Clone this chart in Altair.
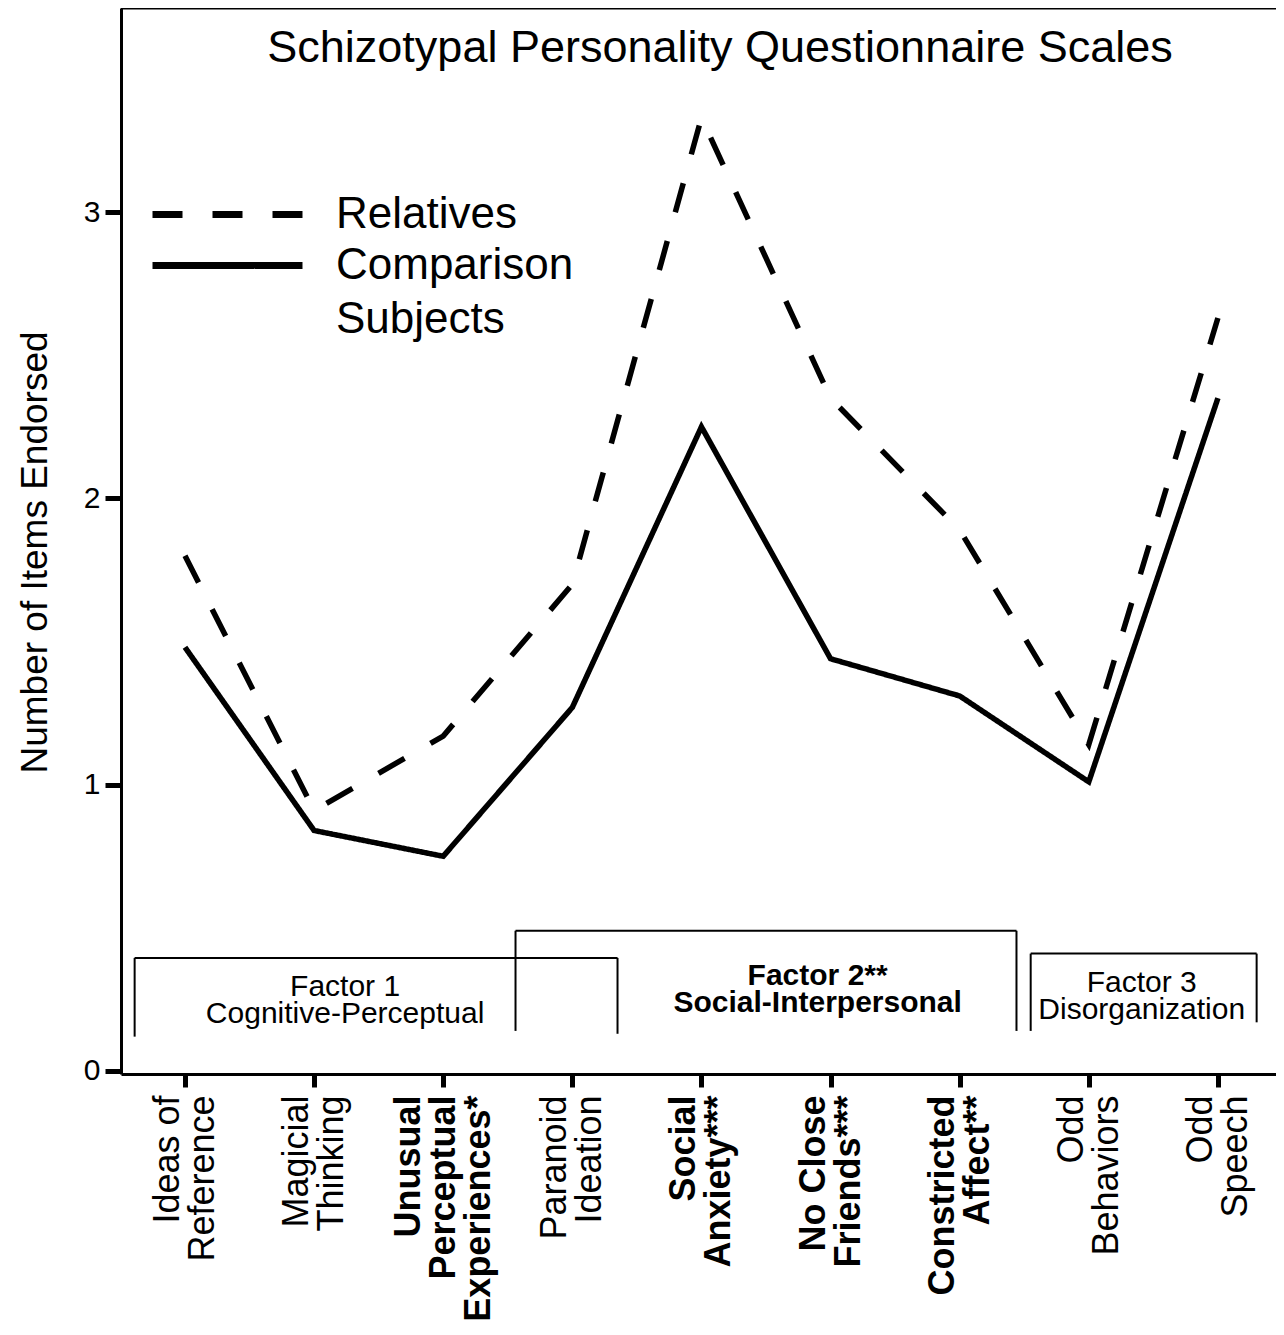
import json
import altair as alt
import pandas as pd

# ---------------- data ----------------
categories = ["Ideas of|Reference", "Magicial|Thinking", "Unusual|Perceptual|Experiences*",
              "Paranoid|Ideation", "Social|Anxiety***", "No Close|Friends***",
              "Constricted|Affect**", "Odd|Behaviors", "Odd|Speech"]
bold_idx = [2, 4, 5, 6]
relatives = [1.80, 0.91, 1.17, 1.70, 3.33, 2.35, 1.89, 1.14, 2.63]
comparison = [1.48, 0.84, 0.75, 1.27, 2.25, 1.44, 1.31, 1.01, 2.35]
series_names = ["Relatives", "Comparison|Subjects"]

factor_labels = ["Factor 1\nCognitive-Perceptual", "Factor 2**\nSocial-Interpersonal",
                 "Factor 3\nDisorganization"]
factor_bold = [False, True, False]
factor_x0 = [-0.39, 2.56, 6.55]
factor_x1 = [3.35, 6.44, 8.30]
factor_top = [0.395, 0.49, 0.41]
factor_bottom_left = [0.12, 0.14, 0.14]
factor_bottom_right = [0.13, 0.14, 0.17]
factor_text_x = [1.24, 4.90, 7.41]
factor_text_y = [0.262, 0.30, 0.276]

title_text = "Schizotypal Personality Questionnaire Scales"
y_title = "Number of Items Endorsed"

# ---------------- layout ----------------
FONT = "Liberation Sans"
W, H = 1155, 1066
XDOM = [-0.4956, 8.45]
YDOM = [-0.0105, 3.713]
LABEL_LH = 35

rows = []
for i in range(len(categories)):
    rows.append({"idx": i, "value": relatives[i], "series": series_names[0]})
    rows.append({"idx": i, "value": comparison[i], "series": series_names[1]})
df = pd.DataFrame(rows)

x_scale = alt.Scale(domain=XDOM, nice=False, zero=False)
y_scale = alt.Scale(domain=YDOM, nice=False, zero=False)

label_expr = "split(" + json.dumps(categories) + "[datum.value], '|')"

# centre each multi-line label block on its tick
offset_conditions = [
    {"test": "datum.value == %d" % i, "value": -(c.count("|")) * LABEL_LH / 2}
    for i, c in enumerate(categories) if c.count("|") != 1
]

x_axis = alt.Axis(
    values=list(range(len(categories))), labelExpr=label_expr,
    labelAngle=270, labelAlign="right", labelBaseline="middle",
    labelFontSize=36, labelFont=FONT, labelColor="black", labelLineHeight=LABEL_LH,
    labelPadding=8, labelLimit=0,
    labelOffset={"condition": offset_conditions, "value": -LABEL_LH / 2},
    labelFontWeight={"condition": {"test": "indexof(%s, datum.value) >= 0" % json.dumps(bold_idx),
                                   "value": "bold"}, "value": "normal"},
    tickSize=13, tickWidth=5, tickColor="black", domainColor="black", domainWidth=3,
    grid=False, title=None, labelOverlap=False, labelBound=False, labelFlush=False)

y_axis = alt.Axis(
    values=[0, 1, 2, 3], format="d", labelFontSize=30, labelFont=FONT, labelColor="black",
    labelPadding=5, tickSize=16, tickWidth=5, tickColor="black", domainColor="black",
    domainWidth=3, grid=False, title=y_title, titleFontSize=37, titleFont=FONT,
    titleFontWeight="normal", titleColor="black", titleX=-86, titleY=544, titleAngle=270,
    titleBaseline="middle", titleAlign="center", labelFlush=False)

lines = alt.Chart(df).mark_line(color="black", strokeWidth=5.5, strokeCap="butt",
                                strokeJoin="miter").encode(
    x=alt.X("idx:Q", scale=x_scale, axis=x_axis),
    y=alt.Y("value:Q", scale=y_scale, axis=y_axis),
    strokeDash=alt.StrokeDash(
        "series:N",
        scale=alt.Scale(domain=series_names, range=[[30, 30], [1, 0]]),
        legend=alt.Legend(title=None, orient="none", legendX=84, legendY=184,
                          symbolType="M-4,0H4", symbolSize=1406, symbolStrokeWidth=7,
                          symbolStrokeColor="black", symbolFillColor="transparent",
                          labelFontSize=44, labelFont=FONT,
                          labelColor="black", labelOffset=86, rowPadding=6,
                          labelExpr="split(datum.label, '|')", labelLimit=0,
                          labelBaseline="middle")),
    order="idx:Q")

top_rule = alt.Chart(pd.DataFrame({"y": [YDOM[1]]})).mark_rule(
    color="black", strokeWidth=3).encode(y=alt.Y("y:Q", scale=y_scale))

fdf = pd.DataFrame({"label": factor_labels, "bold": factor_bold,
                    "x0": factor_x0, "x1": factor_x1, "top": factor_top,
                    "bl": factor_bottom_left, "br": factor_bottom_right,
                    "tx": factor_text_x, "ty": factor_text_y})

fbase = alt.Chart(fdf)
f_top = fbase.mark_rule(color="black", strokeWidth=2).encode(
    x=alt.X("x0:Q", scale=x_scale), x2="x1:Q", y=alt.Y("top:Q", scale=y_scale))
f_left = fbase.mark_rule(color="black", strokeWidth=2).encode(
    x=alt.X("x0:Q", scale=x_scale), y=alt.Y("top:Q", scale=y_scale), y2="bl:Q")
f_right = fbase.mark_rule(color="black", strokeWidth=2).encode(
    x=alt.X("x1:Q", scale=x_scale), y=alt.Y("top:Q", scale=y_scale), y2="br:Q")

f_text_normal = alt.Chart(fdf[~fdf["bold"]]).mark_text(
    font=FONT, fontSize=30, fontWeight="normal", color="black", align="center",
    baseline="alphabetic", lineBreak="\n", lineHeight=27).encode(
    x=alt.X("tx:Q", scale=x_scale), y=alt.Y("ty:Q", scale=y_scale), text="label:N")
f_text_bold = alt.Chart(fdf[fdf["bold"]]).mark_text(
    font=FONT, fontSize=30, fontWeight="bold", color="black", align="center",
    baseline="alphabetic", lineBreak="\n", lineHeight=27).encode(
    x=alt.X("tx:Q", scale=x_scale), y=alt.Y("ty:Q", scale=y_scale), text="label:N")

title_mark = alt.Chart(pd.DataFrame({"t": [title_text]})).mark_text(
    font=FONT, fontSize=45, color="black", align="center", baseline="alphabetic").encode(
    x=alt.datum(4.144), y=alt.datum(3.524), text="t:N")

chart = alt.layer(top_rule, f_top, f_left, f_right, f_text_normal, f_text_bold,
                  title_mark, lines).properties(
    width=W, height=H,
    autosize=alt.AutoSizeParams(type="none"),
    padding={"left": 113, "top": 0, "right": 0, "bottom": 249},
).configure_view(stroke=None).configure(style={"guide-label": {"lineHeight": 54}})

chart.save("out.html", embed_options={"renderer": "svg", "actions": False})
